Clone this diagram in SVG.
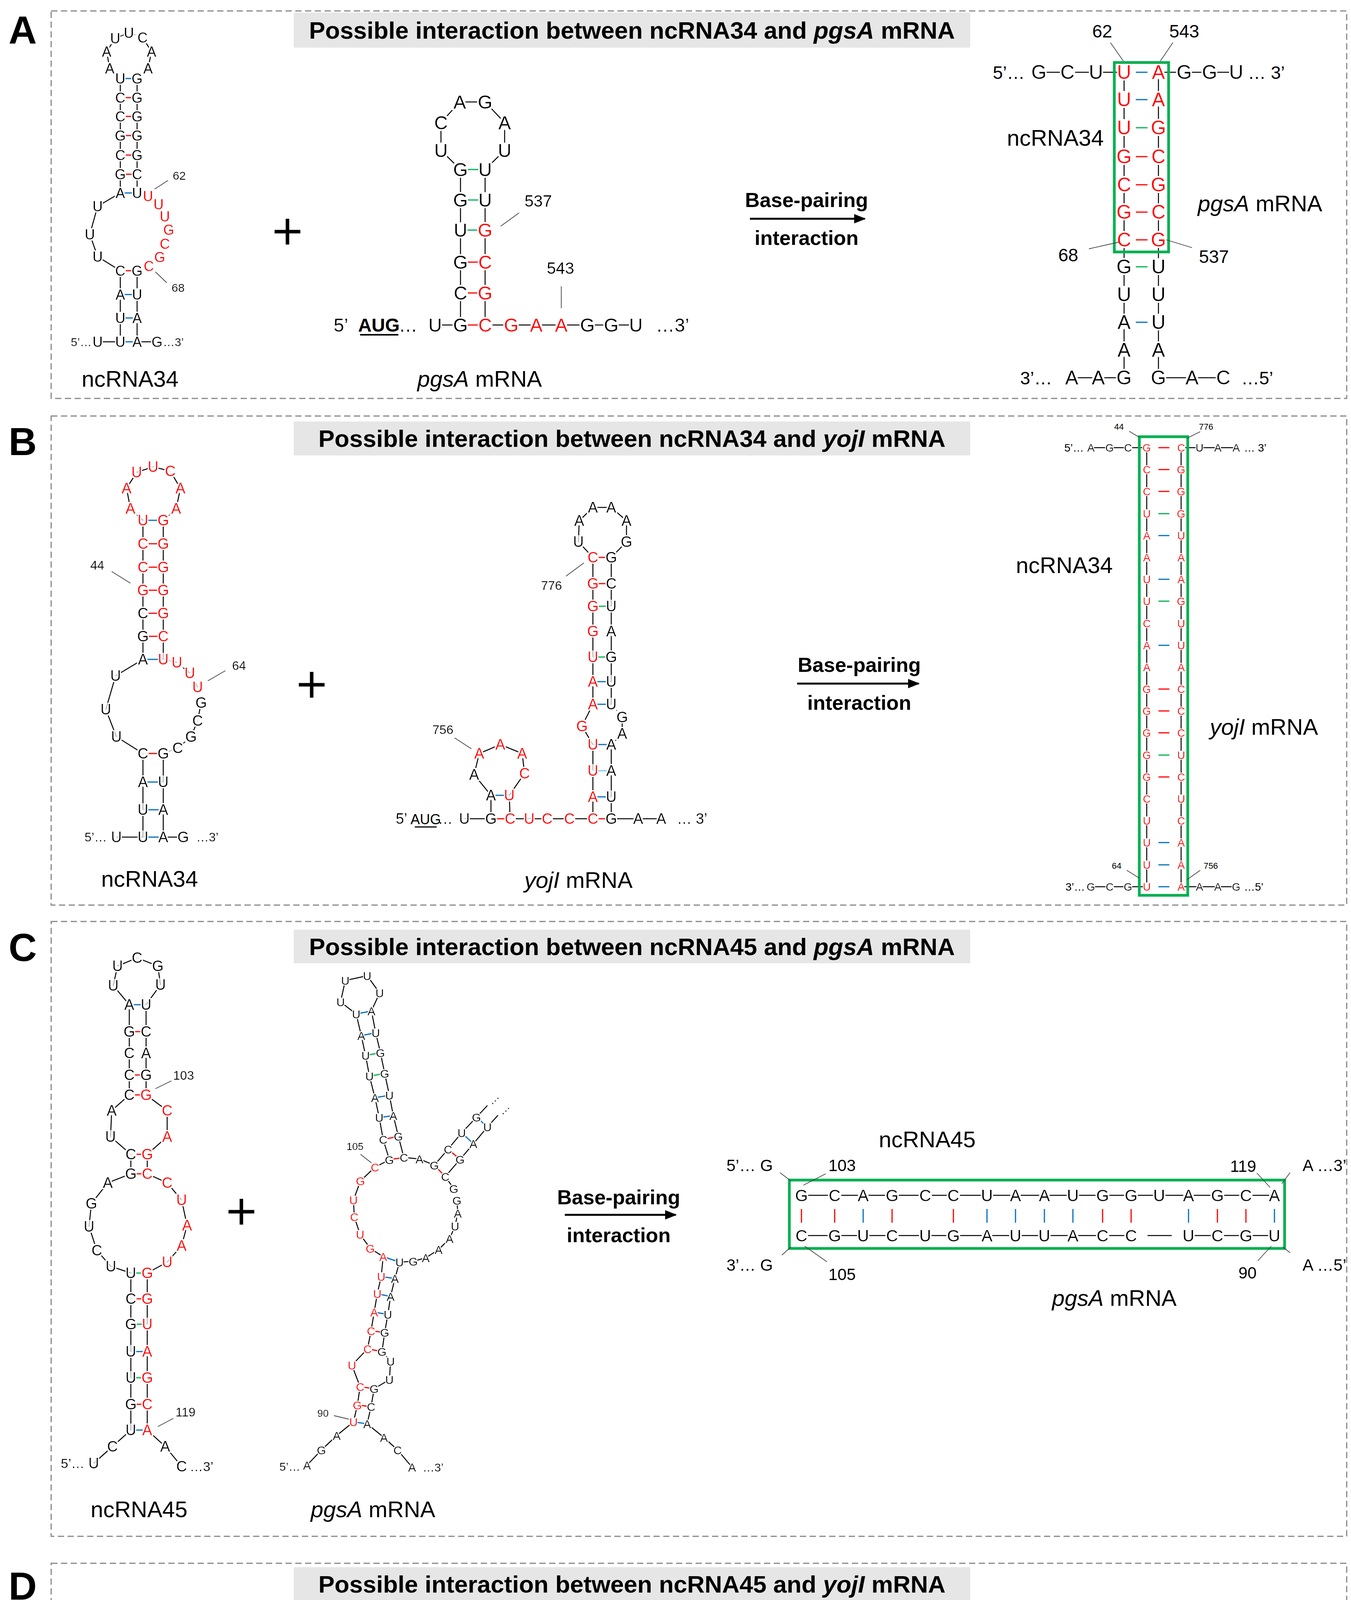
<svg xmlns="http://www.w3.org/2000/svg" width="3459" height="5407" viewBox="0 0 3459 5407">
<defs>
<style>
text{font-family:"Liberation Sans",Arial,sans-serif}
.n text,text.n{text-anchor:middle;dominant-baseline:central}
.r{fill:#f00}
.bb{fill:none;stroke:#000;stroke-width:2.5}
.pr{stroke:#f00;stroke-width:3}
.pb{stroke:#0070c0;stroke-width:3}
.pl{stroke:#7ec8f0;stroke-width:3}
.pg{stroke:#00b050;stroke-width:3}
.lb{stroke:#444;stroke-width:1.8}
.frame{fill:none;stroke:#888;stroke-width:3;stroke-dasharray:16 9}
.gbox{fill:none;stroke:#00b050;stroke-width:7}
.title{font-weight:bold;font-size:62px;text-anchor:middle}
.tbg{fill:#e6e6e6}
.lab{font-size:58px;text-anchor:middle}
.bp{font-weight:bold;font-size:52px;text-anchor:middle}
.pl2{font-weight:bold;font-size:100px}
</style>
<filter id="halo"><feMorphology in="SourceAlpha" operator="dilate" radius="7" result="d"/><feMorphology in="d" operator="erode" radius="4" result="e"/><feFlood flood-color="#fff"/><feComposite in2="e" operator="in" result="w"/><feMerge><feMergeNode in="w"/><feMergeNode in="SourceGraphic"/></feMerge></filter>
<filter id="haloL"><feMorphology in="SourceAlpha" operator="dilate" radius="10" result="d"/><feMorphology in="d" operator="erode" radius="6" result="e"/><feFlood flood-color="#fff"/><feComposite in2="e" operator="in" result="w"/><feMerge><feMergeNode in="w"/><feMergeNode in="SourceGraphic"/></feMerge></filter>
<filter id="haloS"><feMorphology in="SourceAlpha" operator="dilate" radius="6" result="d"/><feMorphology in="d" operator="erode" radius="4" result="e"/><feFlood flood-color="#fff"/><feComposite in2="e" operator="in" result="w"/><feMerge><feMergeNode in="w"/><feMergeNode in="SourceGraphic"/></feMerge></filter>
<marker id="ah" viewBox="0 0 10 10" refX="9" refY="5" markerWidth="6" markerHeight="6" orient="auto"><path d="M0,1 L10,5 L0,9 z" fill="#000"/></marker>
</defs>
<rect width="3459" height="5407" fill="#fff"/>

<g id="frames">
<rect class="frame" x="131" y="28" width="3317" height="992"/>
<rect class="frame" x="131" y="1065" width="3317" height="1252"/>
<rect class="frame" x="131" y="2359" width="3317" height="1574"/>
<rect class="frame" x="131" y="4002" width="3317" height="1398"/>
<text class="pl2" x="22" y="112">A</text>
<text class="pl2" x="22" y="1165">B</text>
<text class="pl2" x="22" y="2460">C</text>
<text class="pl2" x="22" y="4095">D</text>
<rect class="tbg" x="752" y="32" width="1732" height="90"/>
<text class="title" x="1618" y="99">Possible interaction between ncRNA34 and <tspan font-style="italic">pgsA</tspan> mRNA</text>
<rect class="tbg" x="752" y="1079" width="1732" height="87"/>
<text class="title" x="1618" y="1144">Possible interaction between ncRNA34 and <tspan font-style="italic">yojI</tspan> mRNA</text>
<rect class="tbg" x="752" y="2380" width="1732" height="86"/>
<text class="title" x="1618" y="2445">Possible interaction between ncRNA45 and <tspan font-style="italic">pgsA</tspan> mRNA</text>
<rect class="tbg" x="752" y="4012" width="1732" height="87"/>
<text class="title" x="1618" y="4077">Possible interaction between ncRNA45 and <tspan font-style="italic">yojI</tspan> mRNA</text>
</g>

<g id="connectors">
<line x1="1920" y1="560" x2="2214" y2="560" stroke="#000" stroke-width="5" marker-end="url(#ah)"/>
<text class="bp" x="2065" y="530">Base-pairing</text><text class="bp" x="2065" y="627">interaction</text>
<line x1="2041" y1="1750" x2="2352" y2="1750" stroke="#000" stroke-width="5" marker-end="url(#ah)"/>
<text class="bp" x="2200" y="1720">Base-pairing</text><text class="bp" x="2200" y="1817">interaction</text>
<line x1="1446" y1="3110" x2="1730" y2="3110" stroke="#000" stroke-width="5" marker-end="url(#ah)"/>
<text class="bp" x="1584" y="3083">Base-pairing</text><text class="bp" x="1584" y="3180">interaction</text>
<line x1="2017" y1="4770" x2="2318" y2="4770" stroke="#000" stroke-width="5" marker-end="url(#ah)"/>
<text class="bp" x="2172" y="4740">Base-pairing</text><text class="bp" x="2172" y="4837">interaction</text>
<path d="M736,560v66M703,593h66M798,1720v66M765,1753h66M618,3069v66M585,3102h66M759,4728v66M726,4761h66" stroke="#000" stroke-width="9"/>
</g>

<g id="A_ncRNA34">
<polyline class="bb" points="250,875 308,875 308,814 308,754 308,693 250,657 230,600 250,528 308,494 308,446 308,397 308,347 308,298 308,250 308,201 281,175 273,132 295,98 330,84 365,96 388,132 379,175 351,201 351,250 351,298 351,347 351,397 351,446 351,494 379,502 406,523 422,554 430,586 422,624 409,658 381,681 351,693 351,754 351,814 351,875 402,875"/>
<line class="pb" x1="308" y1="875" x2="351" y2="875"/><line class="pb" x1="308" y1="814" x2="351" y2="814"/><line class="pb" x1="308" y1="754" x2="351" y2="754"/><line class="pr" x1="308" y1="693" x2="351" y2="693"/><line class="pb" x1="308" y1="494" x2="351" y2="494"/><line class="pr" x1="308" y1="446" x2="351" y2="446"/><line class="pr" x1="308" y1="397" x2="351" y2="397"/><line class="pr" x1="308" y1="347" x2="351" y2="347"/><line class="pr" x1="308" y1="298" x2="351" y2="298"/><line class="pr" x1="308" y1="250" x2="351" y2="250"/><line class="pb" x1="308" y1="201" x2="351" y2="201"/>
<line class="lb" x1="430" y1="462" x2="396" y2="484"/><line class="lb" x1="398" y1="696" x2="427" y2="724"/>
<g class="n" font-size="36" filter="url(#halo)">
<text x="250" y="875">U</text><text x="308" y="875">U</text><text x="351" y="875">A</text><text x="402" y="875">G</text>
<text x="308" y="814">U</text><text x="351" y="814">A</text><text x="308" y="754">A</text><text x="351" y="754">U</text><text x="308" y="693">C</text><text x="351" y="693">G</text>
<text x="250" y="657">U</text><text x="230" y="600">U</text><text x="250" y="528">U</text>
<text x="308" y="494">A</text><text x="351" y="494">U</text><text x="308" y="446">G</text><text x="351" y="446">C</text><text x="308" y="397">C</text><text x="351" y="397">G</text><text x="308" y="347">G</text><text x="351" y="347">G</text><text x="308" y="298">C</text><text x="351" y="298">G</text><text x="308" y="250">C</text><text x="351" y="250">G</text><text x="308" y="201">U</text><text x="351" y="201">G</text>
<text x="281" y="175">A</text><text x="273" y="132">A</text><text x="295" y="98">U</text><text x="330" y="84">U</text><text x="365" y="96">C</text><text x="388" y="132">A</text><text x="379" y="175">A</text>
<text class="r" x="379" y="502">U</text><text class="r" x="406" y="523">U</text><text class="r" x="422" y="554">U</text><text class="r" x="432" y="588">G</text><text class="r" x="422" y="624">C</text><text class="r" x="409" y="658">G</text><text class="r" x="381" y="681">C</text>
<text x="208" y="875" font-size="30">5’…</text><text x="444" y="875" font-size="30">…3’</text>
<text x="459" y="449" font-size="30">62</text><text x="456" y="736" font-size="30">68</text>
</g>
<text class="lab" x="333" y="990">ncRNA34</text>
</g>

<g id="A_pgsA">
<polyline class="bb" points="1114,832 1179,832 1179,750 1179,671 1179,589 1179,512 1179,434 1129,385 1129,314 1177,261 1242,261 1292,314 1292,385 1242,434 1242,512 1242,589 1242,671 1242,750 1242,832 1309,832 1373,832 1437,832 1504,832 1565,832 1628,832"/>
<line class="pr" x1="1179" y1="832" x2="1242" y2="832"/><line class="pr" x1="1179" y1="750" x2="1242" y2="750"/><line class="pr" x1="1179" y1="671" x2="1242" y2="671"/><line class="pg" x1="1179" y1="589" x2="1242" y2="589"/><line class="pg" x1="1179" y1="512" x2="1242" y2="512"/><line class="pg" x1="1179" y1="434" x2="1242" y2="434"/>
<line class="lb" x1="1329" y1="545" x2="1282" y2="579"/><line class="lb" x1="1437" y1="733" x2="1437" y2="789"/>
<g class="n" font-size="48" filter="url(#haloL)">
<text x="1114" y="832">U</text><text x="1179" y="832">G</text><text class="r" x="1242" y="832">C</text><text class="r" x="1309" y="832">G</text><text class="r" x="1373" y="832">A</text><text class="r" x="1437" y="832">A</text><text x="1504" y="832">G</text><text x="1565" y="832">G</text><text x="1628" y="832">U</text>
<text x="1179" y="750">C</text><text class="r" x="1242" y="750">G</text><text x="1179" y="671">G</text><text class="r" x="1242" y="671">C</text><text x="1179" y="589">U</text><text class="r" x="1242" y="589">G</text><text x="1179" y="512">G</text><text x="1242" y="512">U</text><text x="1179" y="434">G</text><text x="1242" y="434">U</text>
<text x="1129" y="385">U</text><text x="1129" y="314">C</text><text x="1177" y="261">A</text><text x="1242" y="261">G</text><text x="1292" y="314">A</text><text x="1292" y="385">U</text>
<text x="873" y="832">5’</text><text x="1045" y="832">…</text><text x="1722" y="832">…3’</text>
<text x="1378" y="514" font-size="42">537</text><text x="1435" y="686" font-size="42">543</text>
</g>
<text x="970" y="849" font-size="48" font-weight="bold" text-anchor="middle">AUG</text><line x1="922" y1="857" x2="1020" y2="857" stroke="#000" stroke-width="4"/>
<text class="lab" x="1228" y="990"><tspan font-style="italic">pgsA</tspan> mRNA</text>
</g>

<g id="A_duplex">
<polyline class="bb" points="2660,185 2733,185 2806,185 2878,185 2878,967 2812,967 2744,967"/>
<polyline class="bb" points="3165,185 3097,185 3032,185 2966,185 2966,967 3052,967 3132,967"/>
<g stroke-width="3.5">
<line class="pb" x1="2908" y1="185" x2="2938" y2="185"/><line class="pb" x1="2908" y1="255" x2="2938" y2="255"/><line class="pg" x1="2908" y1="327" x2="2938" y2="327"/><line class="pr" x1="2908" y1="401" x2="2938" y2="401"/><line class="pr" x1="2908" y1="473" x2="2938" y2="473"/><line class="pr" x1="2908" y1="543" x2="2938" y2="543"/><line class="pr" x1="2908" y1="614" x2="2938" y2="614"/><line class="pg" x1="2908" y1="683" x2="2938" y2="683"/><line class="pb" x1="2908" y1="825" x2="2938" y2="825"/>
</g>
<g class="n" font-size="50" filter="url(#haloL)">
<text x="2660" y="185">G</text><text x="2733" y="185">C</text><text x="2806" y="185">U</text><text x="3032" y="185">G</text><text x="3097" y="185">G</text><text x="3165" y="185">U</text>
<text class="r" x="2878" y="185">U</text><text class="r" x="2878" y="255">U</text><text class="r" x="2878" y="327">U</text><text class="r" x="2878" y="401">G</text><text class="r" x="2878" y="473">C</text><text class="r" x="2878" y="543">G</text><text class="r" x="2878" y="614">C</text>
<text class="r" x="2966" y="185">A</text><text class="r" x="2966" y="255">A</text><text class="r" x="2966" y="327">G</text><text class="r" x="2966" y="401">C</text><text class="r" x="2966" y="473">G</text><text class="r" x="2966" y="543">C</text><text class="r" x="2966" y="614">G</text>
<text x="2878" y="683">G</text><text x="2878" y="754">U</text><text x="2878" y="825">A</text><text x="2878" y="896">A</text><text x="2878" y="967">G</text><text x="2812" y="967">A</text><text x="2744" y="967">A</text>
<text x="2966" y="683">U</text><text x="2966" y="754">U</text><text x="2966" y="825">U</text><text x="2966" y="896">A</text><text x="2966" y="967">G</text><text x="3052" y="967">A</text><text x="3132" y="967">C</text>
</g>
<g font-size="46">
<text x="2542" y="202">5’…</text><text x="3195" y="202">… 3’</text><text x="2612" y="984">3’…</text><text x="3178" y="984">…5’</text>
</g>
<rect class="gbox" x="2853" y="160" width="139" height="485"/>
<line class="lb" x1="2843" y1="109" x2="2876" y2="156"/><line class="lb" x1="3003" y1="109" x2="2971" y2="156"/><line class="lb" x1="2788" y1="637" x2="2864" y2="620"/><line class="lb" x1="2986" y1="614" x2="3052" y2="634"/>
<g font-size="46" text-anchor="middle" dominant-baseline="central"><text x="2822" y="80">62</text><text x="3032" y="80">543</text><text x="2735" y="653">68</text><text x="3108" y="657">537</text></g>
<text class="lab" x="2702" y="373">ncRNA34</text>
<text class="lab" x="3226" y="541"><tspan font-style="italic">pgsA</tspan> mRNA</text>
</g>

<g id="B_ncRNA34">
<polyline class="bb" points="298,2143 366,2143 366,2073 366,2002 366,1929 298,1886 271,1816 296,1730 366,1688 366,1629 366,1570 366,1511 366,1452 366,1392 366,1332 334,1302 324,1250 350,1209 392,1195 436,1206 462,1250 451,1302 418,1332 418,1392 418,1452 418,1511 418,1570 418,1629 418,1688 453,1696 486,1723 506,1759 515,1799 506,1845 489,1886 455,1915 418,1929 418,2002 418,2073 418,2143 469,2143"/>
<line class="pb" x1="366" y1="2143" x2="418" y2="2143"/><line class="pb" x1="366" y1="2073" x2="418" y2="2073"/><line class="pb" x1="366" y1="2002" x2="418" y2="2002"/><line class="pr" x1="366" y1="1929" x2="418" y2="1929"/><line class="pb" x1="366" y1="1688" x2="418" y2="1688"/><line class="pr" x1="366" y1="1629" x2="418" y2="1629"/><line class="pr" x1="366" y1="1570" x2="418" y2="1570"/><line class="pr" x1="366" y1="1511" x2="418" y2="1511"/><line class="pr" x1="366" y1="1452" x2="418" y2="1452"/><line class="pr" x1="366" y1="1392" x2="418" y2="1392"/><line class="pb" x1="366" y1="1332" x2="418" y2="1332"/>
<line class="lb" x1="286" y1="1463" x2="334" y2="1493"/><line class="lb" x1="577" y1="1717" x2="532" y2="1743"/>
<g class="n" font-size="38" filter="url(#halo)">
<text x="298" y="2143">U</text><text x="366" y="2143">U</text><text x="418" y="2143">A</text><text x="469" y="2143">G</text>
<text x="366" y="2073">U</text><text x="418" y="2073">A</text><text x="366" y="2002">A</text><text x="418" y="2002">U</text><text x="366" y="1929">C</text><text x="418" y="1929">G</text>
<text x="298" y="1886">U</text><text x="271" y="1816">U</text><text x="296" y="1730">U</text>
<text x="366" y="1688">A</text><text class="r" x="418" y="1688">U</text><text x="366" y="1629">G</text><text class="r" x="418" y="1629">C</text><text x="366" y="1570">C</text><text class="r" x="418" y="1570">G</text>
<text class="r" x="366" y="1511">G</text><text class="r" x="418" y="1511">G</text><text class="r" x="366" y="1452">C</text><text class="r" x="418" y="1452">G</text><text class="r" x="366" y="1392">C</text><text class="r" x="418" y="1392">G</text><text class="r" x="366" y="1332">U</text><text class="r" x="418" y="1332">G</text>
<text class="r" x="334" y="1302">A</text><text class="r" x="324" y="1250">A</text><text class="r" x="350" y="1209">U</text><text class="r" x="392" y="1195">U</text><text class="r" x="436" y="1206">C</text><text class="r" x="462" y="1250">A</text><text class="r" x="451" y="1302">A</text>
<text class="r" x="453" y="1696">U</text><text class="r" x="486" y="1723">U</text><text class="r" x="506" y="1759">U</text><text x="515" y="1799">G</text><text x="506" y="1845">C</text><text x="489" y="1886">G</text><text x="455" y="1915">C</text>
<text x="245" y="2143" font-size="32">5’…</text><text x="531" y="2143" font-size="32">…3’</text>
<text x="249" y="1447" font-size="32">44</text><text x="612" y="1704" font-size="32">64</text>
</g>
<text class="lab" x="383" y="2270">ncRNA34</text>
</g>

<g id="B_yojI">
<polyline class="bb" points="1189,2096 1257,2096 1257,2036 1214,1983 1227,1929 1281,1906 1337,1929 1343,1980 1304,2036 1306,2096 1355,2096 1401,2096 1458,2096 1518,2096 1518,2040 1518,1973 1518,1906 1490,1859 1518,1803 1518,1745 1518,1682 1518,1616 1518,1552 1518,1494 1518,1427 1481,1387 1483,1333 1518,1299 1565,1299 1604,1333 1604,1387 1565,1427 1565,1494 1565,1552 1565,1616 1565,1682 1565,1745 1565,1803 1593,1836 1593,1878 1565,1906 1565,1973 1565,2040 1565,2096 1634,2096 1693,2096"/>
<line class="pr" x1="1257" y1="2096" x2="1306" y2="2096"/><line class="pb" x1="1257" y1="2036" x2="1304" y2="2036"/><line class="pr" x1="1518" y1="2096" x2="1565" y2="2096"/><line class="pb" x1="1518" y1="2040" x2="1565" y2="2040"/><line class="pl" x1="1518" y1="1973" x2="1565" y2="1973"/><line class="pb" x1="1518" y1="1906" x2="1565" y2="1906"/><line class="pb" x1="1518" y1="1803" x2="1565" y2="1803"/><line class="pb" x1="1518" y1="1745" x2="1565" y2="1745"/><line class="pg" x1="1518" y1="1682" x2="1565" y2="1682"/><line class="pg" x1="1518" y1="1552" x2="1565" y2="1552"/><line class="pr" x1="1518" y1="1494" x2="1565" y2="1494"/><line class="pr" x1="1518" y1="1427" x2="1565" y2="1427"/>
<line class="lb" x1="1449" y1="1475" x2="1495" y2="1441"/><line class="lb" x1="1164" y1="1889" x2="1207" y2="1917"/>
<g class="n" font-size="38" filter="url(#halo)">
<text x="1189" y="2096">U</text><text x="1257" y="2096">G</text><text class="r" x="1306" y="2096">C</text><text class="r" x="1355" y="2096">U</text><text class="r" x="1401" y="2096">C</text><text class="r" x="1458" y="2096">C</text><text class="r" x="1518" y="2096">C</text><text x="1565" y="2096">G</text><text x="1634" y="2096">A</text><text x="1693" y="2096">A</text>
<text x="1257" y="2036">A</text><text x="1214" y="1983">A</text><text class="r" x="1227" y="1929">A</text><text class="r" x="1281" y="1906">A</text><text class="r" x="1337" y="1929">A</text><text class="r" x="1343" y="1980">C</text><text class="r" x="1304" y="2036">U</text>
<text class="r" x="1518" y="2040">A</text><text class="r" x="1518" y="1973">U</text><text class="r" x="1518" y="1906">U</text><text class="r" x="1490" y="1859">G</text><text class="r" x="1518" y="1803">A</text><text class="r" x="1518" y="1745">A</text><text class="r" x="1518" y="1682">U</text><text class="r" x="1518" y="1616">G</text><text class="r" x="1518" y="1552">G</text><text class="r" x="1518" y="1494">G</text><text class="r" x="1518" y="1427">C</text>
<text x="1481" y="1387">U</text><text x="1483" y="1333">A</text><text x="1518" y="1299">A</text><text x="1565" y="1299">A</text><text x="1604" y="1333">A</text><text x="1604" y="1387">G</text>
<text x="1565" y="1427">G</text><text x="1565" y="1494">C</text><text x="1565" y="1552">U</text><text x="1565" y="1616">A</text><text x="1565" y="1682">G</text><text x="1565" y="1745">U</text><text x="1565" y="1803">U</text><text x="1593" y="1836">G</text><text x="1593" y="1878">A</text><text x="1565" y="1906">A</text><text x="1565" y="1973">A</text><text x="1565" y="2040">U</text>
<text x="1028" y="2096">5’</text><text x="1140" y="2096">…</text><text x="1772" y="2096">… 3’</text>
<text x="1412" y="1499" font-size="32">776</text><text x="1134" y="1868" font-size="32">756</text>
</g>
<text x="1090" y="2110" font-size="36" text-anchor="middle">AUG</text><line x1="1062" y1="2117" x2="1118" y2="2117" stroke="#000" stroke-width="3"/>
<text class="lab" x="1481" y="2273"><tspan font-style="italic">yojI</tspan> mRNA</text>
</g>

<g id="B_duplex">
<polyline class="bb" points="2793,1146 2841,1146 2888,1146 2936,1146 2936,2270 2888,2270 2841,2270 2793,2270"/>
<polyline class="bb" points="3165,1146 3118,1146 3071,1146 3024,1146 3024,2270 3071,2270 3118,2270 3165,2270"/>
<g stroke-width="2.5">
<line class="pr" x1="2966" y1="1146" x2="2994" y2="1146"/><line class="pr" x1="2966" y1="1202" x2="2994" y2="1202"/><line class="pr" x1="2966" y1="1258" x2="2994" y2="1258"/><line class="pg" x1="2966" y1="1315" x2="2994" y2="1315"/><line class="pb" x1="2966" y1="1371" x2="2994" y2="1371"/>
<line class="pb" x1="2966" y1="1483" x2="2994" y2="1483"/><line class="pg" x1="2966" y1="1539" x2="2994" y2="1539"/><line class="pb" x1="2966" y1="1652" x2="2994" y2="1652"/><line class="pr" x1="2966" y1="1764" x2="2994" y2="1764"/><line class="pr" x1="2966" y1="1820" x2="2994" y2="1820"/><line class="pr" x1="2966" y1="1876" x2="2994" y2="1876"/><line class="pg" x1="2966" y1="1933" x2="2994" y2="1933"/><line class="pr" x1="2966" y1="1989" x2="2994" y2="1989"/>
<line class="pb" x1="2966" y1="2157" x2="2994" y2="2157"/><line class="pb" x1="2966" y1="2214" x2="2994" y2="2214"/><line class="pb" x1="2966" y1="2270" x2="2994" y2="2270"/>
</g>
<g class="n" font-size="28" filter="url(#haloS)">
<text x="2793" y="1146">A</text><text x="2841" y="1146">G</text><text x="2888" y="1146">C</text><text x="3071" y="1146">U</text><text x="3118" y="1146">A</text><text x="3165" y="1146">A</text>
<text x="2793" y="2270">G</text><text x="2841" y="2270">C</text><text x="2888" y="2270">G</text><text x="3071" y="2270">A</text><text x="3118" y="2270">A</text><text x="3165" y="2270">G</text>
<g class="r">
<text x="2936" y="1146">G</text><text x="2936" y="1202">C</text><text x="2936" y="1258">C</text><text x="2936" y="1315">U</text><text x="2936" y="1371">A</text><text x="2936" y="1427">A</text><text x="2936" y="1483">U</text><text x="2936" y="1539">U</text><text x="2936" y="1596">C</text><text x="2936" y="1652">A</text><text x="2936" y="1708">A</text><text x="2936" y="1764">G</text><text x="2936" y="1820">G</text><text x="2936" y="1876">G</text><text x="2936" y="1933">G</text><text x="2936" y="1989">G</text><text x="2936" y="2045">C</text><text x="2936" y="2101">U</text><text x="2936" y="2157">U</text><text x="2936" y="2214">U</text><text x="2936" y="2270">U</text>
<text x="3024" y="1146">C</text><text x="3024" y="1202">G</text><text x="3024" y="1258">G</text><text x="3024" y="1315">G</text><text x="3024" y="1371">U</text><text x="3024" y="1427">A</text><text x="3024" y="1483">A</text><text x="3024" y="1539">G</text><text x="3024" y="1596">U</text><text x="3024" y="1652">U</text><text x="3024" y="1708">A</text><text x="3024" y="1764">C</text><text x="3024" y="1820">C</text><text x="3024" y="1876">C</text><text x="3024" y="1933">U</text><text x="3024" y="1989">C</text><text x="3024" y="2045">U</text><text x="3024" y="2101">C</text><text x="3024" y="2157">A</text><text x="3024" y="2214">A</text><text x="3024" y="2270">A</text>
</g>
</g>
<g font-size="28"><text x="2725" y="1156">5’…</text><text x="3185" y="1156">… 3’</text><text x="2728" y="2280">3’…</text><text x="3185" y="2280">…5’</text></g>
<rect class="gbox" x="2917" y="1118" width="124" height="1174" stroke-width="5"/>
<line class="lb" x1="2891" y1="1104" x2="2918" y2="1120"/><line class="lb" x1="3073" y1="1105" x2="3039" y2="1122"/><line class="lb" x1="2885" y1="2228" x2="2917" y2="2248"/><line class="lb" x1="3073" y1="2228" x2="3039" y2="2252"/>
<g font-size="22" text-anchor="middle" dominant-baseline="central"><text x="2865" y="1092">44</text><text x="3088" y="1092">776</text><text x="2859" y="2216">64</text><text x="3100" y="2216">756</text></g>
<text class="lab" x="2725" y="1467">ncRNA34</text>
<text class="lab" x="3236" y="1881"><tspan font-style="italic">yojI</tspan> mRNA</text>
</g>

<g id="C_ncRNA45">
<polyline class="bb" points="240,3746 288,3703 335,3661 335,3595 335,3527 335,3460 335,3390 335,3325 335,3259 284,3242 248,3201 228,3140 234,3081 276,3028 335,3005 335,2955 283,2910 286,2843 331,2803 331,2752 331,2696 331,2641 331,2572 290,2523 301,2473 351,2452 404,2473 411,2521 374,2572 374,2641 374,2696 374,2752 374,2803 428,2843 428,2910 377,2955 377,3005 428,3028 465,3072 479,3137 465,3189 428,3231 377,3259 377,3325 377,3390 377,3460 377,3527 377,3595 377,3661 423,3703 465,3754"/>
<line class="pb" x1="331" y1="2572" x2="374" y2="2572"/><line class="pr" x1="331" y1="2641" x2="374" y2="2641"/><line class="pr" x1="331" y1="2752" x2="374" y2="2752"/><line class="pr" x1="331" y1="2803" x2="374" y2="2803"/><line class="pr" x1="335" y1="2955" x2="377" y2="2955"/><line class="pr" x1="335" y1="3005" x2="377" y2="3005"/><line class="pg" x1="335" y1="3259" x2="377" y2="3259"/><line class="pr" x1="335" y1="3325" x2="377" y2="3325"/><line class="pg" x1="335" y1="3390" x2="377" y2="3390"/><line class="pb" x1="335" y1="3460" x2="377" y2="3460"/><line class="pg" x1="335" y1="3527" x2="377" y2="3527"/><line class="pr" x1="335" y1="3595" x2="377" y2="3595"/><line class="pb" x1="335" y1="3661" x2="377" y2="3661"/>
<line class="lb" x1="439" y1="2767" x2="398" y2="2787"/><line class="lb" x1="444" y1="3631" x2="404" y2="3652"/>
<g class="n" font-size="38" filter="url(#halo)">
<text x="240" y="3746">U</text><text x="288" y="3703">C</text><text x="335" y="3661">U</text><text x="335" y="3595">G</text><text x="335" y="3527">U</text><text x="335" y="3460">U</text><text x="335" y="3390">G</text><text x="335" y="3325">C</text><text x="335" y="3259">U</text>
<text x="284" y="3242">U</text><text x="248" y="3201">C</text><text x="228" y="3140">U</text><text x="234" y="3081">G</text><text x="276" y="3028">A</text><text x="335" y="3005">G</text><text x="335" y="2955">C</text><text x="283" y="2910">U</text><text x="286" y="2843">A</text>
<text x="331" y="2803">C</text><text x="331" y="2752">C</text><text x="331" y="2696">C</text><text x="331" y="2641">G</text><text x="331" y="2572">A</text><text x="290" y="2523">U</text><text x="301" y="2473">U</text><text x="351" y="2452">C</text><text x="404" y="2473">G</text><text x="411" y="2521">U</text>
<text x="374" y="2572">U</text><text x="374" y="2641">C</text><text x="374" y="2696">A</text><text x="374" y="2752">G</text><text class="r" x="374" y="2803">G</text><text class="r" x="428" y="2843">C</text><text class="r" x="428" y="2910">A</text><text class="r" x="377" y="2955">G</text><text class="r" x="377" y="3005">C</text>
<text class="r" x="428" y="3028">C</text><text class="r" x="465" y="3072">U</text><text class="r" x="479" y="3137">A</text><text class="r" x="465" y="3189">A</text><text class="r" x="428" y="3231">U</text>
<text class="r" x="377" y="3259">G</text><text class="r" x="377" y="3325">G</text><text class="r" x="377" y="3390">U</text><text class="r" x="377" y="3460">A</text><text class="r" x="377" y="3527">G</text><text class="r" x="377" y="3595">C</text><text class="r" x="377" y="3661">A</text><text x="423" y="3703">A</text><text x="465" y="3754">C</text>
<text x="186" y="3746" font-size="34">5’…</text><text x="516" y="3754" font-size="34">…3’</text>
<text x="470" y="2753" font-size="32">103</text><text x="475" y="3615" font-size="32">119</text>
</g>
<text class="lab" x="356" y="3884">ncRNA45</text>
</g>

<g id="C_pgsA">
<polyline class="bb" points="786,3751 823,3712 862,3675 905,3640 915,3597 922,3550 901,3495 941,3453 950,3407 958,3359 966,3312 976,3268 981,3217 948,3196 922,3160 907,3115 905,3072 923,3023 960,2988 997,2969 981,2917 971,2861 960,2810 946,2755 936,2702 925,2651 912,2596 872,2565 884,2510 940,2498 972,2542 951,2588 962,2644 974,2695 985,2748 997,2804 1007,2856 1020,2909 1034,2963 1074,2967 1112,2983 1147,2942 1182,2900 1220,2860 1248,2830"/>
<polyline class="bb" points="1275,2855 1248,2885 1212,2928 1178,2968 1140,3012 1162,3043 1170,3073 1172,3106 1165,3139 1151,3171 1123,3199 1090,3220 1058,3229 1023,3231 1011,3273 1000,3319 993,3365 985,3411 978,3460 1000,3485 997,3532 958,3555 950,3601 940,3645 983,3680 1018,3712 1055,3756"/>
<line class="pb" x1="912" y1="2596" x2="951" y2="2588"/><line class="pb" x1="925" y1="2651" x2="962" y2="2644"/><line class="pg" x1="936" y1="2702" x2="974" y2="2695"/><line class="pg" x1="946" y1="2755" x2="985" y2="2748"/><line class="pb" x1="960" y1="2810" x2="997" y2="2804"/><line class="pb" x1="971" y1="2861" x2="1007" y2="2856"/><line class="pr" x1="981" y1="2917" x2="1020" y2="2909"/><line class="pr" x1="997" y1="2969" x2="1034" y2="2963"/>
<line class="pr" x1="1112" y1="2983" x2="1140" y2="3012"/><line class="pr" x1="1147" y1="2942" x2="1178" y2="2968"/><line class="pb" x1="1182" y1="2900" x2="1212" y2="2928"/><line class="pb" x1="1220" y1="2860" x2="1248" y2="2885"/>
<line class="pb" x1="981" y1="3217" x2="1023" y2="3231"/><line class="pb" x1="976" y1="3268" x2="1011" y2="3273"/><line class="pb" x1="966" y1="3312" x2="1000" y2="3319"/><line class="pb" x1="958" y1="3359" x2="993" y2="3365"/><line class="pr" x1="950" y1="3407" x2="985" y2="3411"/><line class="pr" x1="941" y1="3453" x2="978" y2="3460"/><line class="pr" x1="922" y1="3550" x2="958" y2="3555"/><line class="pr" x1="915" y1="3597" x2="950" y2="3601"/><line class="pb" x1="905" y1="3640" x2="940" y2="3645"/>
<line class="lb" x1="923" y1="2955" x2="951" y2="2977"/><line class="lb" x1="855" y1="3624" x2="893" y2="3633"/>
<g class="n" font-size="30" filter="url(#haloS)">
<text x="786" y="3751">A</text><text x="823" y="3712">G</text><text x="862" y="3675">A</text>
<text class="r" x="905" y="3640">U</text><text class="r" x="915" y="3597">G</text><text class="r" x="922" y="3550">C</text><text class="r" x="901" y="3495">U</text><text class="r" x="941" y="3453">C</text><text class="r" x="950" y="3407">C</text><text class="r" x="958" y="3359">A</text><text class="r" x="966" y="3312">U</text><text class="r" x="976" y="3268">U</text><text class="r" x="981" y="3217">A</text><text class="r" x="948" y="3196">G</text><text class="r" x="922" y="3160">U</text><text class="r" x="907" y="3115">C</text><text class="r" x="905" y="3072">U</text><text class="r" x="923" y="3023">G</text><text class="r" x="960" y="2988">C</text>
<text x="997" y="2969">G</text><text x="981" y="2917">C</text><text x="971" y="2861">U</text><text x="960" y="2810">A</text><text x="946" y="2755">U</text><text x="936" y="2702">U</text><text x="925" y="2651">A</text><text x="912" y="2596">U</text><text x="872" y="2565">U</text><text x="884" y="2510">U</text><text x="940" y="2498">U</text><text x="972" y="2542">U</text>
<text x="951" y="2588">A</text><text x="962" y="2644">U</text><text x="974" y="2695">G</text><text x="985" y="2748">G</text><text x="997" y="2804">U</text><text x="1007" y="2856">A</text><text x="1020" y="2909">G</text><text x="1034" y="2963">C</text><text x="1074" y="2967">A</text><text x="1112" y="2983">G</text>
<text x="1147" y="2942">C</text><text x="1182" y="2900">U</text><text x="1220" y="2860">G</text><text x="1248" y="2885">U</text><text x="1212" y="2928">A</text><text x="1178" y="2968">G</text><text x="1140" y="3012">C</text>
<text x="1162" y="3043">G</text><text x="1170" y="3073">G</text><text x="1172" y="3106">A</text><text x="1165" y="3139">U</text><text x="1151" y="3171">A</text><text x="1123" y="3199">A</text><text x="1090" y="3220">A</text><text x="1058" y="3229">G</text><text x="1023" y="3231">U</text>
<text x="1011" y="3273">A</text><text x="1000" y="3319">A</text><text x="993" y="3365">U</text><text x="985" y="3411">G</text><text x="978" y="3460">G</text><text x="1000" y="3485">U</text><text x="997" y="3532">U</text><text x="958" y="3555">G</text><text x="950" y="3601">C</text><text x="940" y="3645">A</text>
<text x="983" y="3680">A</text><text x="1018" y="3712">C</text><text x="1055" y="3756">A</text>
<text x="742" y="3754">5’…</text><text x="1109" y="3756">…3’</text>
<text x="1262" y="2812" transform="rotate(-45 1262 2812)">…</text><text x="1289" y="2838" transform="rotate(-45 1289 2838)">…</text>
<text x="909" y="2935" font-size="26">105</text><text x="827" y="3618" font-size="26">90</text>
</g>
<text class="lab" x="955" y="3884"><tspan font-style="italic">pgsA</tspan> mRNA</text>
</g>

<g id="C_duplex">
<g stroke-width="3.5">
<line class="pr" x1="2052" y1="3095" x2="2052" y2="3130"/><line class="pr" x1="2137" y1="3095" x2="2137" y2="3130"/><line class="pb" x1="2210" y1="3095" x2="2210" y2="3130"/><line class="pr" x1="2284" y1="3095" x2="2284" y2="3130"/><line class="pr" x1="2441" y1="3095" x2="2441" y2="3130"/><line class="pb" x1="2527" y1="3095" x2="2527" y2="3130"/><line class="pb" x1="2600" y1="3095" x2="2600" y2="3130"/><line class="pb" x1="2674" y1="3095" x2="2674" y2="3130"/><line class="pb" x1="2747" y1="3095" x2="2747" y2="3130"/><line class="pr" x1="2823" y1="3095" x2="2823" y2="3130"/><line class="pr" x1="2896" y1="3095" x2="2896" y2="3130"/><line class="pb" x1="3043" y1="3095" x2="3043" y2="3130"/><line class="pr" x1="3117" y1="3095" x2="3117" y2="3130"/><line class="pr" x1="3190" y1="3095" x2="3190" y2="3130"/><line class="pb" x1="3263" y1="3095" x2="3263" y2="3130"/>
</g>
<line class="bb" x1="2052" y1="3060" x2="3263" y2="3060"/>
<line class="bb" x1="2052" y1="3163" x2="2896" y2="3163"/>
<line class="bb" x1="3043" y1="3163" x2="3263" y2="3163"/>
<line class="bb" x1="2938" y1="3163" x2="3000" y2="3163"/>
<g class="n" font-size="42" filter="url(#haloL)">
<text x="2052" y="3060">G</text><text x="2137" y="3060">C</text><text x="2210" y="3060">A</text><text x="2284" y="3060">G</text><text x="2369" y="3060">C</text><text x="2441" y="3060">C</text><text x="2527" y="3060">U</text><text x="2600" y="3060">A</text><text x="2674" y="3060">A</text><text x="2747" y="3060">U</text><text x="2823" y="3060">G</text><text x="2896" y="3060">G</text><text x="2968" y="3060">U</text><text x="3043" y="3060">A</text><text x="3117" y="3060">G</text><text x="3190" y="3060">C</text><text x="3263" y="3060">A</text>
<text x="2052" y="3163">C</text><text x="2137" y="3163">G</text><text x="2210" y="3163">U</text><text x="2284" y="3163">C</text><text x="2369" y="3163">U</text><text x="2441" y="3163">G</text><text x="2527" y="3163">A</text><text x="2600" y="3163">U</text><text x="2674" y="3163">U</text><text x="2747" y="3163">A</text><text x="2823" y="3163">C</text><text x="2896" y="3163">C</text><text x="3043" y="3163">U</text><text x="3117" y="3163">C</text><text x="3190" y="3163">G</text><text x="3263" y="3163">U</text>
</g>
<rect class="gbox" x="2021" y="3021" width="1268" height="175"/>
<line class="lb" x1="1997" y1="3002" x2="2025" y2="3023"/><line class="lb" x1="2114" y1="3005" x2="2057" y2="3034"/><line class="lb" x1="3218" y1="3003" x2="3252" y2="3040"/><line class="lb" x1="3303" y1="3002" x2="3282" y2="3030"/>
<line class="lb" x1="2025" y1="3192" x2="2002" y2="3213"/><line class="lb" x1="2060" y1="3190" x2="2117" y2="3230"/><line class="lb" x1="3255" y1="3190" x2="3220" y2="3228"/><line class="lb" x1="3284" y1="3192" x2="3303" y2="3207"/>
<g font-size="42" dominant-baseline="central">
<text x="1860" y="2983">5’… G</text><text x="1860" y="3238">3’… G</text><text x="3335" y="2983">A …3’</text><text x="3335" y="3238">A …5’</text>
<text x="2156" y="2983" text-anchor="middle">103</text><text x="3183" y="2985" text-anchor="middle">119</text><text x="2156" y="3262" text-anchor="middle">105</text><text x="3194" y="3258" text-anchor="middle">90</text>
</g>
<text class="lab" x="2374" y="2937">ncRNA45</text>
<text class="lab" x="2853" y="3343"><tspan font-style="italic">pgsA</tspan> mRNA</text>
</g>

<g id="D_ncRNA45">
<polyline class="bb" points="309,5230 349,5191 390,5159 390,5101 390,5045 390,4989 390,4930 390,4875 390,4819 349,4806 318,4771 301,4722 306,4669 342,4623 390,4604 390,4563 347,4526 349,4468 387,4435 387,4393 387,4345 387,4297 387,4240 352,4201 362,4156 404,4139 448,4156 455,4197 423,4240 423,4297 423,4345 423,4393 423,4435 468,4468 469,4526 427,4563 427,4604 470,4623 500,4662 513,4716 500,4759 469,4795 427,4819 427,4875 427,4930 427,4989 427,5045 427,5101 427,5159 464,5191 500,5234"/>
<line class="pb" x1="387" y1="4240" x2="423" y2="4240"/><line class="pr" x1="387" y1="4297" x2="423" y2="4297"/><line class="pr" x1="387" y1="4393" x2="423" y2="4393"/><line class="pr" x1="387" y1="4435" x2="423" y2="4435"/><line class="pr" x1="390" y1="4563" x2="427" y2="4563"/><line class="pr" x1="390" y1="4604" x2="427" y2="4604"/><line class="pg" x1="390" y1="4819" x2="427" y2="4819"/><line class="pr" x1="390" y1="4875" x2="427" y2="4875"/><line class="pg" x1="390" y1="4930" x2="427" y2="4930"/><line class="pb" x1="390" y1="4989" x2="427" y2="4989"/><line class="pg" x1="390" y1="5045" x2="427" y2="5045"/><line class="pr" x1="390" y1="5101" x2="427" y2="5101"/><line class="pb" x1="390" y1="5159" x2="427" y2="5159"/>
<line class="lb" x1="312" y1="4128" x2="347" y2="4149"/><line class="lb" x1="519" y1="4444" x2="485" y2="4464"/>
<g class="n" font-size="30" filter="url(#haloS)">
<text x="309" y="5230">U</text><text x="349" y="5191">C</text><text x="390" y="5159">U</text><text x="390" y="5101">G</text><text x="390" y="5045">U</text><text x="390" y="4989">U</text><text x="390" y="4930">G</text><text x="390" y="4875">C</text><text x="390" y="4819">U</text>
<text x="349" y="4806">U</text><text x="318" y="4771">C</text><text x="301" y="4722">U</text><text x="306" y="4669">G</text><text x="342" y="4623">A</text><text x="390" y="4604">G</text><text x="390" y="4563">C</text><text x="347" y="4526">U</text><text x="349" y="4468">A</text>
<text x="387" y="4435">C</text><text x="387" y="4393">C</text><text x="387" y="4345">C</text><text x="387" y="4297">G</text><text x="387" y="4240">A</text><text x="352" y="4201">U</text>
<text class="r" x="362" y="4156">U</text><text class="r" x="404" y="4139">C</text><text class="r" x="448" y="4156">G</text><text class="r" x="455" y="4197">U</text><text class="r" x="423" y="4240">U</text><text class="r" x="423" y="4297">C</text><text class="r" x="423" y="4345">A</text><text class="r" x="423" y="4393">G</text><text class="r" x="423" y="4435">G</text><text class="r" x="468" y="4468">C</text>
<text x="469" y="4526">A</text><text x="427" y="4563">G</text><text x="427" y="4604">C</text><text x="470" y="4623">C</text><text x="500" y="4662">U</text><text x="513" y="4716">A</text><text x="500" y="4759">A</text><text x="469" y="4795">U</text>
<text x="427" y="4819">G</text><text x="427" y="4875">G</text><text x="427" y="4930">U</text><text x="427" y="4989">A</text><text x="427" y="5045">G</text><text x="427" y="5101">C</text><text x="427" y="5159">A</text><text x="464" y="5191">A</text><text x="500" y="5234">C</text>
<text x="262" y="5230">5’…</text><text x="547" y="5233">…3’</text>
<text x="287" y="4113">95</text><text x="545" y="4433">104</text>
</g>
<text class="lab" x="398" y="5341">ncRNA45</text>
</g>

<g id="D_yojI">
<polyline class="bb" points="862,4338 885,4345 941,4358 1008,4386 1065,4406 1096,4468 1132,4531 1164,4592 1195,4654 1227,4715 1262,4781 1242,4833 1264,4892 1233,4960 1204,5023 1142,5050 1085,5085"/>
<polyline class="bb" points="1176,4172 1172,4198 1146,4262 1123,4327 1104,4386 1136,4446 1168,4509 1200,4572 1233,4635 1271,4696 1302,4758 1346,4755 1392,4785 1465,4771 1527,4752 1596,4729 1629,4671 1696,4675 1768,4652 1831,4627 1890,4604"/>
<polyline class="bb" points="1905,4642 1850,4668 1785,4692 1719,4715 1708,4760 1662,4788 1608,4775 1542,4791 1477,4814 1408,4842 1378,4902 1308,4922 1277,4977 1248,5042 1292,5088 1337,5142"/>
<line class="bb" x1="1264" y1="4892" x2="1308" y2="4922"/>
<line class="pr" x1="1065" y1="4406" x2="1104" y2="4386"/><line class="pr" x1="1096" y1="4468" x2="1136" y2="4446"/><line class="pb" x1="1132" y1="4531" x2="1168" y2="4509"/><line class="pb" x1="1164" y1="4592" x2="1200" y2="4572"/><line class="pg" x1="1195" y1="4654" x2="1233" y2="4635"/><line class="pb" x1="1227" y1="4715" x2="1271" y2="4696"/><line class="pr" x1="1262" y1="4781" x2="1302" y2="4758"/><line class="pb" x1="1392" y1="4785" x2="1408" y2="4842"/><line class="pr" x1="1465" y1="4771" x2="1477" y2="4814"/><line class="pb" x1="1527" y1="4752" x2="1542" y2="4791"/><line class="pr" x1="1768" y1="4652" x2="1785" y2="4692"/><line class="pb" x1="1831" y1="4627" x2="1850" y2="4668"/><line class="pb" x1="1233" y1="4960" x2="1277" y2="4977"/><line class="pr" x1="1204" y1="5023" x2="1248" y2="5042"/>
<line class="lb" x1="1012" y1="4342" x2="1006" y2="4373"/><line class="lb" x1="1183" y1="4885" x2="1233" y2="4894"/>
<g class="n" font-size="32" filter="url(#haloS)">
<text x="885" y="4345">A</text><text x="941" y="4358">C</text><text class="r" x="1008" y="4386">A</text><text class="r" x="1065" y="4406">G</text><text class="r" x="1096" y="4468">C</text><text class="r" x="1132" y="4531">A</text><text class="r" x="1164" y="4592">A</text><text class="r" x="1195" y="4654">G</text><text class="r" x="1227" y="4715">U</text><text class="r" x="1262" y="4781">C</text><text class="r" x="1242" y="4833">C</text><text class="r" x="1264" y="4892">G</text>
<text x="1233" y="4960">A</text><text x="1204" y="5023">G</text><text x="1142" y="5050">A</text><text x="1085" y="5085">A</text>
<text x="1172" y="4198">A</text><text x="1146" y="4262">A</text><text x="1123" y="4327">A</text><text x="1104" y="4386">C</text><text x="1136" y="4446">G</text><text x="1168" y="4509">U</text><text x="1200" y="4572">U</text><text x="1233" y="4635">U</text><text x="1271" y="4696">A</text><text x="1302" y="4758">G</text><text x="1346" y="4755">A</text><text x="1392" y="4785">U</text><text x="1465" y="4771">G</text><text x="1527" y="4752">A</text><text x="1596" y="4729">A</text><text x="1629" y="4671">A</text><text x="1696" y="4675">C</text><text x="1768" y="4652">A</text><text x="1831" y="4627">U</text>
<text x="1850" y="4668">A</text><text x="1785" y="4692">U</text><text x="1719" y="4715">G</text><text x="1708" y="4760">A</text><text x="1662" y="4788">G</text><text x="1608" y="4775">U</text><text x="1542" y="4791">U</text><text x="1477" y="4814">C</text><text x="1408" y="4842">A</text><text x="1378" y="4902">A</text><text x="1308" y="4922">C</text><text x="1277" y="4977">U</text><text x="1248" y="5042">C</text><text x="1292" y="5088">U</text><text x="1337" y="5142">G</text>
<text x="842" y="4331">…</text><text x="1177" y="4152" transform="rotate(-70 1177 4152)">…</text><text x="1910" y="4594" transform="rotate(-20 1910 4594)">…</text><text x="1924" y="4633" transform="rotate(-20 1924 4633)">…</text>
<text x="1022" y="5085">5’…</text><text x="1398" y="5142">…3’</text>
<text x="1015" y="4319">264</text><text x="1150" y="4873">255</text>
</g>
<text class="lab" x="1200" y="5347"><tspan font-style="italic">yojI</tspan> mRNA</text>
</g>

<g id="D_duplex">
<polyline class="bb" points="2823,4188 2844,4221"/><polyline class="bb" points="2875,4277 2913,4346 2913,5171 2873,5233"/><polyline class="bb" points="2838,5275 2814,5308"/>
<polyline class="bb" points="3133,4183 3112,4217"/><polyline class="bb" points="3082,4277 3054,4346 3054,5171 3082,5233"/><polyline class="bb" points="3109,5275 3130,5308"/>
<g stroke-width="3">
<line class="pb" x1="2961" y1="4346" x2="3004" y2="4346"/><line class="pr" x1="2961" y1="4438" x2="3004" y2="4438"/><line class="pr" x1="2961" y1="4529" x2="3004" y2="4529"/><line class="pb" x1="2961" y1="4621" x2="3004" y2="4621"/><line class="pb" x1="2961" y1="4713" x2="3004" y2="4713"/><line class="pr" x1="2961" y1="4804" x2="3004" y2="4804"/><line class="pb" x1="2961" y1="4896" x2="3004" y2="4896"/><line class="pr" x1="2961" y1="4988" x2="3004" y2="4988"/><line class="pr" x1="2961" y1="5080" x2="3004" y2="5080"/><line class="pr" x1="2961" y1="5171" x2="3004" y2="5171"/>
</g>
<g class="n" font-size="46" filter="url(#haloL)">
<text x="2913" y="4346">A</text><text x="2913" y="4438">G</text><text x="2913" y="4529">C</text><text x="2913" y="4621">A</text><text x="2913" y="4713">A</text><text x="2913" y="4804">G</text><text x="2913" y="4896">U</text><text x="2913" y="4988">C</text><text x="2913" y="5080">C</text><text x="2913" y="5171">G</text>
<text x="3054" y="4346">U</text><text x="3054" y="4438">C</text><text x="3054" y="4529">G</text><text x="3054" y="4621">U</text><text x="3054" y="4713">U</text><text x="3054" y="4804">C</text><text x="3054" y="4896">A</text><text x="3054" y="4988">G</text><text x="3054" y="5080">G</text><text x="3054" y="5171">C</text>
<text x="2806" y="4158">A</text><text x="2859" y="4250">C</text><text x="3147" y="4154">A</text><text x="3097" y="4248">U</text>
<text x="2852" y="5252">A</text><text x="2792" y="5329">G</text><text x="3091" y="5252">A</text><text x="3139" y="5329">G</text>
<text x="2735" y="4158">3’…</text><text x="3218" y="4154">…5’</text><text x="2720" y="5329">5’…</text><text x="3206" y="5329">…3’</text>
</g>
<rect class="gbox" x="2882" y="4298" width="203" height="912" stroke-width="6"/>
<line class="lb" x1="2844" y1="4390" x2="2893" y2="4352"/><line class="lb" x1="3121" y1="4390" x2="3072" y2="4357"/><line class="lb" x1="2844" y1="5123" x2="2890" y2="5165"/><line class="lb" x1="3109" y1="5133" x2="3072" y2="5167"/>
<g font-size="38" text-anchor="middle" dominant-baseline="central"><text x="2792" y="4415">264</text><text x="3172" y="4410">95</text><text x="2801" y="5098">255</text><text x="3157" y="5108">104</text></g>
<text class="lab" x="2674" y="4620"><tspan font-style="italic">yojI</tspan> mRNA</text>
<text class="lab" x="3267" y="4907">ncRNA45</text>
</g>
</svg>
